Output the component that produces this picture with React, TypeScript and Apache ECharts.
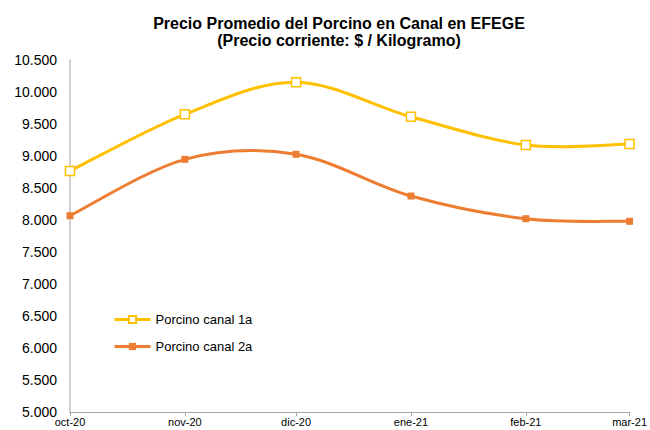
import React, { useEffect, useRef } from "react";
import * as echarts from "echarts";

const dates = ["2020-10-01", "2020-11-01", "2020-12-01", "2021-01-01", "2021-02-01", "2021-03-01"];
const categories = ["oct-20", "nov-20", "dic-20", "ene-21", "feb-21", "mar-21"];
const canal1a = [8766, 9652, 10152, 9614, 9172, 9188];
const canal2a = [8067, 8948, 9027, 8375, 8020, 7980];
const seriesNames = ["Porcino canal 1a", "Porcino canal 2a"];
const colors = ["#FFC000", "#ED7D31"];

const FONT = "Liberation Sans, Arial, sans-serif";

function toTs(d: string) {
  const [y, m, dd] = d.split("-").map(Number);
  return new Date(y, m - 1, dd).getTime();
}

function curveSeries(name: string, ts: number[], vals: number[], color: string, z: number) {
  return {
    name: name + " curve",
    type: "custom",
    z,
    silent: true,
    data: ts.map((t, i) => [t, vals[i]]),
    encode: { x: 0, y: 1 },
    renderItem: (params: any, api: any) => {
      if (params.dataIndex !== 0) return null;
      const pts = ts.map((t, i) => api.coord([t, vals[i]]));
      let d = `M${pts[0][0]},${pts[0][1]}`;
      for (let i = 0; i < pts.length - 1; i++) {
        const p0 = pts[i - 1] || pts[i];
        const p1 = pts[i];
        const p2 = pts[i + 1];
        const p3 = pts[i + 2] || pts[i + 1];
        const c1x = p1[0] + (p2[0] - p0[0]) / 6;
        const c1y = p1[1] + (p2[1] - p0[1]) / 6;
        const c2x = p2[0] - (p3[0] - p1[0]) / 6;
        const c2y = p2[1] - (p3[1] - p1[1]) / 6;
        d += ` C${c1x},${c1y} ${c2x},${c2y} ${p2[0]},${p2[1]}`;
      }
      return {
        type: "path",
        shape: { pathData: d },
        style: { fill: "none", stroke: color, lineWidth: 3, lineJoin: "round", lineCap: "round" },
      };
    },
  };
}

export default function App() {
  const ref = useRef<HTMLDivElement>(null);
  useEffect(() => {
    if (!ref.current) return;
    const chart = echarts.init(ref.current, undefined, { renderer: "svg" });
    const ts = dates.map(toTs);
    const labelFor = (v: number) => {
      const d = new Date(v);
      for (let i = 0; i < ts.length; i++) {
        const t = new Date(ts[i]);
        if (t.getFullYear() === d.getFullYear() && t.getMonth() === d.getMonth()) return categories[i];
      }
      return "";
    };
    chart.setOption({
      animation: false,
      backgroundColor: "#ffffff",
      textStyle: { fontFamily: FONT },
      title: {
        text: "Precio Promedio del Porcino en Canal en EFEGE\n(Precio corriente: $ / Kilogramo)",
        left: 334,
        textAlign: "center",
        top: 10,
        textStyle: { fontFamily: FONT, fontSize: 16, fontWeight: "bold", color: "#000", lineHeight: 17 },
      },
      legend: {
        orient: "vertical",
        left: 108,
        top: 308,
        itemWidth: 36,
        itemHeight: 9,
        itemGap: 14,
        textStyle: { fontFamily: FONT, fontSize: 13, color: "#000" },
        data: seriesNames.map((n, i) => ({
          name: n,
          lineStyle: { color: colors[i], width: 3, opacity: 1 },
        })),
      },
      grid: { left: 70, right: 18, top: 60, bottom: 18, containLabel: false },
      xAxis: {
        type: "time",
        min: ts[0],
        max: ts[ts.length - 1],
        minInterval: 27 * 86400000,
        maxInterval: 32 * 86400000,
        splitLine: { show: false },
        axisLine: { lineStyle: { color: "#a6a6a6", width: 1 } },
        axisTick: { show: true, length: 4, lineStyle: { color: "#a6a6a6" } },
        axisLabel: {
          fontFamily: FONT,
          fontSize: 11,
          color: "#000",
          margin: 4,
          showMinLabel: true,
          showMaxLabel: true,
          hideOverlap: false,
          formatter: (v: number) => labelFor(v),
        },
      },
      yAxis: {
        type: "value",
        min: 5000,
        max: 10500,
        interval: 500,
        splitLine: { show: false },
        axisLine: { show: true, lineStyle: { color: "#bfbfbf", width: 1.5 } },
        axisTick: { show: false },
        axisLabel: {
          fontFamily: FONT,
          fontSize: 14,
          color: "#000",
          margin: 13,
          formatter: (v: number) => (v / 1000).toFixed(3),
        },
      },
      series: [
        curveSeries(seriesNames[0], ts, canal1a, colors[0], 3),
        curveSeries(seriesNames[1], ts, canal2a, colors[1], 1),
        {
          name: seriesNames[0],
          type: "line",
          data: ts.map((t, i) => [t, canal1a[i]]),
          symbol: "rect",
          symbolSize: 9,
          lineStyle: { color: colors[0], width: 3, opacity: 0 },
          itemStyle: { color: "#ffffff", borderColor: colors[0], borderWidth: 1.5 },
          z: 4,
        },
        {
          name: seriesNames[1],
          type: "line",
          data: ts.map((t, i) => [t, canal2a[i]]),
          symbol: "rect",
          symbolSize: 7,
          lineStyle: { color: colors[1], width: 3, opacity: 0 },
          itemStyle: { color: colors[1], borderColor: colors[1], borderWidth: 0 },
          z: 2,
        },
      ],
    });
    return () => chart.dispose();
  }, []);
  return <div ref={ref} style={{ width: 650, height: 430, position: "absolute", left: 0, top: 0 }} />;
}
